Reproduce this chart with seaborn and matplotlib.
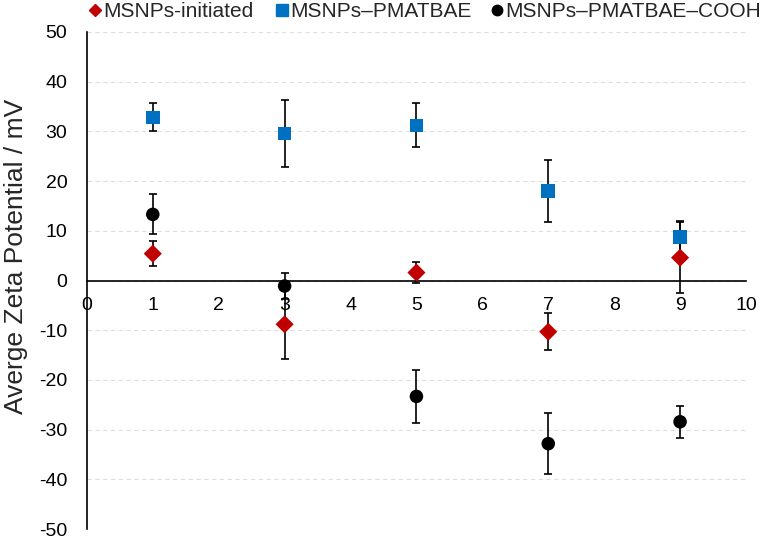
import numpy as np
import pandas as pd
import matplotlib
matplotlib.use('Agg')
import matplotlib.pyplot as plt
import seaborn as sns

# values
x_vals = [1, 3, 5, 7, 9]
initiated = [5.4, -8.8, 1.6, -10.3, 4.6]
initiated_err = [2.5, 7.0, 2.1, 3.7, 7.2]
pmatbae = [32.8, 29.6, 31.2, 18.0, 8.7]
pmatbae_err = [2.8, 6.7, 4.4, 6.2, 3.3]
cooh = [13.3, -1.1, -23.3, -32.8, -28.4]
cooh_err = [4.0, 2.6, 5.3, 6.1, 3.2]

series_names = ["MSNPs-initiated", "MSNPs\u2013PMATBAE", "MSNPs\u2013PMATBAE\u2013COOH"]
colors = ["#C00000", "#0070C0", "#000000"]
markers = ["D", "s", "o"]
sizes = [85, 95, 95]
legend_msize = [6.5, 9, 7.5]

df = pd.DataFrame({
    "x": x_vals * 3,
    "y": initiated + pmatbae + cooh,
    "err": initiated_err + pmatbae_err + cooh_err,
    "series": sum([[n] * len(x_vals) for n in series_names], []),
})

sns.set_theme(style="white")
plt.rcParams['font.family'] = ['Liberation Sans', 'DejaVu Sans']
plt.rcParams['axes.unicode_minus'] = False

fig = plt.figure(figsize=(7.62, 5.4), dpi=100)
ax = fig.add_axes([0.114, 0.020, 0.865, 0.921])

# error bars first, markers on top
for name in series_names:
    sub = df[df["series"] == name]
    ax.errorbar(sub["x"], sub["y"], yerr=sub["err"], fmt="none",
                ecolor="black", elinewidth=1.2, capsize=3, capthick=1.2, zorder=2)

for name, c, m, s in zip(series_names, colors, markers, sizes):
    sub = df[df["series"] == name]
    sns.scatterplot(data=sub, x="x", y="y", color=c, marker=m, s=s,
                    edgecolor="none", ax=ax, zorder=3, label=name, legend=False)

ax.set_xlim(0, 10)
ax.set_ylim(-50, 50)
ax.set_xticks(range(0, 11))
ax.set_yticks(range(-50, 51, 10))
ax.yaxis.grid(True, color="#dedede", linestyle=(0, (4, 3)), linewidth=0.8)
ax.set_axisbelow(True)

for sp in ["top", "right"]:
    ax.spines[sp].set_visible(False)
ax.spines["bottom"].set_position(("data", 0))
ax.spines["bottom"].set_color("black")
ax.spines["left"].set_color("black")
ax.spines["bottom"].set_linewidth(1.2)
ax.spines["left"].set_linewidth(1.2)
ax.tick_params(axis="both", length=0, labelsize=14, colors="black")
ax.tick_params(axis="y", pad=14)
ax.tick_params(axis="x", pad=12)
ax.set_xlabel("")
ax.set_ylabel("Averge Zeta Potential / mV", fontsize=19)
ax.yaxis.set_label_coords(-0.09, 0.549)

# one legend entry per slot, like the Excel legend
legend_x = [0.1165, 0.3619, 0.644]
for name, c, m, ms, lx in zip(series_names, colors, markers, legend_msize, legend_x):
    h = plt.Line2D([], [], marker=m, color=c, linestyle="none", markersize=ms)
    fig.legend([h], [name], loc="center left", bbox_to_anchor=(lx, 0.979),
               frameon=False, fontsize=15, handletextpad=0.08, handlelength=0.6,
               borderpad=0.0, borderaxespad=0.0)

fig.savefig("out.png", dpi=100)
